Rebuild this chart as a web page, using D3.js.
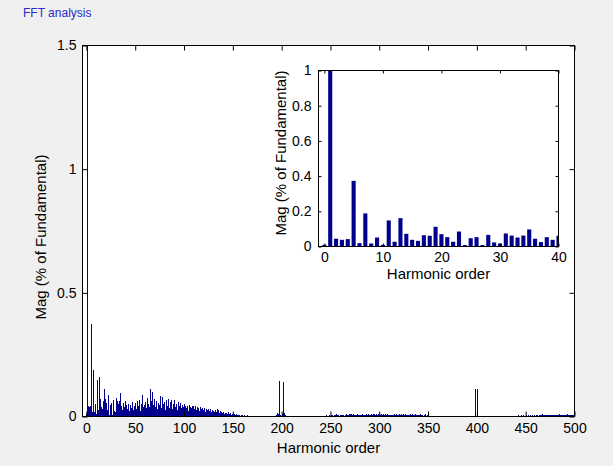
<!DOCTYPE html>
<html>
<head>
<meta charset="utf-8">
<script src="https://cdn.jsdelivr.net/npm/d3@7"></script>
<style>
  html, body { margin: 0; padding: 0; background: #f0f0f0; }
  svg { display: block; }
  text { font-family: Arial, "Liberation Sans", Helvetica, sans-serif; }
</style>
</head>
<body>
<div id="content"></div>
<script>
// harmonic magnitudes, order 0..500 (order 1 is clipped at the top)
const magLow = [
  0.010, 1.500, 0.044, 0.038, 0.042, 0.373, 0.019, 0.188, 0.017, 0.051,
  0.009, 0.148, 0.027, 0.161, 0.072, 0.038, 0.032, 0.064, 0.061, 0.112,
  0.070, 0.053, 0.027, 0.085, 0.008, 0.047, 0.053, 0.008, 0.066, 0.023,
  0.017, 0.074, 0.062, 0.051, 0.062, 0.097, 0.044, 0.025, 0.053, 0.038,
  0.061
];
const magHigh = [
  0.045, 0.030, 0.052, 0.021, 0.048, 0.035, 0.060, 0.026, 0.043, 0.055,
  0.030, 0.062, 0.041, 0.068, 0.024, 0.050, 0.088, 0.037, 0.072, 0.046,
  0.058, 0.033, 0.075, 0.052, 0.040, 0.112, 0.064, 0.101, 0.045, 0.070,
  0.038, 0.062, 0.029, 0.055, 0.047, 0.081, 0.034, 0.079, 0.051, 0.060,
  0.027, 0.066, 0.044, 0.069, 0.036, 0.058, 0.067, 0.031, 0.052, 0.065,
  0.040, 0.049, 0.025, 0.057, 0.042, 0.054, 0.033, 0.046, 0.038, 0.050,
  0.029, 0.044, 0.036, 0.041, 0.022, 0.045, 0.039, 0.034, 0.043, 0.044,
  0.031, 0.042, 0.027, 0.038, 0.035, 0.024, 0.040, 0.030, 0.036, 0.028,
  0.033, 0.019, 0.030, 0.026, 0.032, 0.021, 0.029, 0.017, 0.025, 0.022,
  0.018, 0.027, 0.020, 0.031, 0.028, 0.015, 0.022, 0.018, 0.013, 0.019,
  0.012, 0.016, 0.010, 0.014, 0.011, 0.017, 0.009, 0.013, 0.008, 0.011,
  0.007, 0.010, 0.006, 0.009, 0.008, 0.005, 0.007, 0.004, 0.006, 0.005,
  0.004, 0.005, 0.003, 0.004, 0.005, 0.003, 0.004, 0.002, 0.004, 0.003,
  0.003, 0.004, 0.002, 0.003, 0.003, 0.002, 0.004, 0.003, 0.002, 0.003,
  0.002, 0.003, 0.002, 0.002, 0.003, 0.002, 0.002, 0.003, 0.002, 0.002,
  0.002, 0.003, 0.002, 0.004, 0.006, 0.016, 0.010, 0.142, 0.008, 0.004,
  0.009, 0.140, 0.014, 0.006, 0.003, 0.002, 0.002, 0.002, 0.001, 0.002,
  0.002, 0.001, 0.002, 0.002, 0.001, 0.002, 0.001, 0.002, 0.002, 0.001,
  0.002, 0.002, 0.001, 0.002, 0.002, 0.001, 0.002, 0.002, 0.002, 0.001,
  0.004, 0.003, 0.002, 0.004, 0.003, 0.002, 0.003, 0.004, 0.002, 0.003,
  0.002, 0.003, 0.002, 0.004, 0.003, 0.005, 0.003, 0.004, 0.006, 0.004,
  0.005, 0.007, 0.004, 0.008, 0.006, 0.009, 0.005, 0.007, 0.004, 0.008,
  0.006, 0.005, 0.008, 0.004, 0.007, 0.009, 0.006, 0.008, 0.005, 0.010,
  0.009, 0.011, 0.007, 0.010, 0.006, 0.008, 0.005, 0.009, 0.007, 0.006,
  0.008, 0.006, 0.009, 0.005, 0.008, 0.007, 0.010, 0.006, 0.009, 0.007,
  0.008, 0.011, 0.006, 0.010, 0.012, 0.008, 0.011, 0.007, 0.012, 0.009,
  0.007, 0.010, 0.008, 0.012, 0.006, 0.009, 0.007, 0.010, 0.005, 0.008,
  0.009, 0.006, 0.008, 0.005, 0.007, 0.009, 0.006, 0.010, 0.008, 0.007,
  0.009, 0.006, 0.011, 0.008, 0.010, 0.007, 0.009, 0.006, 0.008, 0.005,
  0.007, 0.010, 0.006, 0.009, 0.008, 0.006, 0.010, 0.007, 0.005, 0.008,
  0.006, 0.009, 0.005, 0.007, 0.004, 0.006, 0.012, 0.004, 0.005, 0.003,
  0.004, 0.003, 0.002, 0.003, 0.002, 0.003, 0.002, 0.003, 0.002, 0.002,
  0.003, 0.002, 0.002, 0.004, 0.002, 0.002, 0.003, 0.002, 0.002, 0.003,
  0.002, 0.002, 0.004, 0.002, 0.002, 0.003, 0.002, 0.004, 0.002, 0.002,
  0.003, 0.002, 0.002, 0.004, 0.002, 0.003, 0.002, 0.002, 0.004, 0.002,
  0.002, 0.003, 0.002, 0.002, 0.003, 0.002, 0.002, 0.004, 0.110, 0.003,
  0.110, 0.004, 0.002, 0.002, 0.003, 0.002, 0.002, 0.004, 0.002, 0.002,
  0.003, 0.002, 0.002, 0.003, 0.002, 0.002, 0.004, 0.002, 0.002, 0.003,
  0.002, 0.002, 0.003, 0.002, 0.004, 0.002, 0.002, 0.003, 0.002, 0.002,
  0.003, 0.002, 0.004, 0.003, 0.002, 0.003, 0.004, 0.002, 0.003, 0.002,
  0.004, 0.003, 0.005, 0.003, 0.004, 0.006, 0.004, 0.005, 0.003, 0.004,
  0.005, 0.004, 0.006, 0.003, 0.005, 0.004, 0.006, 0.004, 0.005, 0.003,
  0.005, 0.007, 0.004, 0.006, 0.008, 0.005, 0.009, 0.006, 0.007, 0.005,
  0.006, 0.008, 0.005, 0.007, 0.006, 0.008, 0.005, 0.007, 0.009, 0.006,
  0.007, 0.005, 0.008, 0.006, 0.009, 0.007, 0.005, 0.008, 0.006, 0.007,
  0.008, 0.006, 0.009, 0.007, 0.005, 0.008, 0.006, 0.007, 0.005, 0.006
];
const harmonicMag = magLow.concat(magHigh);
const harmonicOrder = harmonicMag.map((_, i) => i);

const mainXTicks = [0, 50, 100, 150, 200, 250, 300, 350, 400, 450, 500];
const mainYTicks = [0, 0.5, 1, 1.5];
const insetXTicks = [0, 10, 20, 30, 40];
const insetYTicks = [0, 0.2, 0.4, 0.6, 0.8, 1];
const insetMaxOrder = 40;

const titleText = 'FFT analysis';
const xLabelText = 'Harmonic order';
const yLabelText = 'Mag (% of Fundamental)';

const barColor = '#00008c';
const width = 613, height = 466;

const svg = d3.select('#content').append('svg')
  .attr('width', width).attr('height', height)
  .attr('viewBox', [0, 0, width, height]);

svg.append('rect').attr('width', width).attr('height', height).attr('fill', '#f0f0f0');

svg.append('text')
  .attr('x', 23).attr('y', 17)
  .style('font-size', '12px').style('fill', '#2a2acc')
  .text(titleText);

// draws one MATLAB-like axes box with inward ticks on all four sides
function drawAxes (opts) {
  const { x, y, data, barWidth, crisp, xTicks, yTicks, tick, xPad, yPad, xLabelY, yLabelX, yLabelY, id } = opts;
  const [x0, x1] = x.range();
  const [y0, y1] = y.range();

  const g = svg.append('g');
  g.append('rect')
    .attr('x', x0).attr('y', y1).attr('width', x1 - x0).attr('height', y0 - y1)
    .attr('fill', 'white');

  g.append('clipPath').attr('id', id)
    .append('rect').attr('x', x0).attr('y', y1).attr('width', x1 - x0).attr('height', y0 - y1);

  const bw = x(barWidth) - x(0);
  g.append('g').attr('clip-path', `url(#${id})`)
    .attr('shape-rendering', crisp ? 'crispEdges' : null)
    .selectAll('rect').data(data).join('rect')
    .attr('x', d => x(d.order) - bw / 2)
    .attr('y', d => y(d.mag))
    .attr('width', bw)
    .attr('height', d => y(0) - y(d.mag))
    .attr('fill', barColor);

  const fmt = d => String(d);
  const styleAxis = sel => {
    sel.select('.domain').remove();
    sel.selectAll('line').attr('stroke', '#000');
    sel.selectAll('text').style('font-size', '14px').attr('fill', '#000').attr('font-family', null);
  };

  g.append('g').attr('transform', `translate(0,${y0})`)
    .call(d3.axisBottom(x).tickValues(xTicks).tickFormat(fmt).tickSizeInner(-tick).tickSizeOuter(0).tickPadding(xPad))
    .call(styleAxis);
  g.append('g').attr('transform', `translate(0,${y1})`)
    .call(d3.axisTop(x).tickValues(xTicks).tickFormat('').tickSizeInner(-tick).tickSizeOuter(0))
    .call(styleAxis);
  g.append('g').attr('transform', `translate(${x0},0)`)
    .call(d3.axisLeft(y).tickValues(yTicks).tickFormat(fmt).tickSizeInner(-tick).tickSizeOuter(0).tickPadding(yPad))
    .call(styleAxis);
  g.append('g').attr('transform', `translate(${x1},0)`)
    .call(d3.axisRight(y).tickValues(yTicks).tickFormat('').tickSizeInner(-tick).tickSizeOuter(0))
    .call(styleAxis);

  g.append('rect')
    .attr('x', x0).attr('y', y1).attr('width', x1 - x0).attr('height', y0 - y1)
    .attr('fill', 'none').attr('stroke', '#000').attr('stroke-width', 1);

  g.append('text')
    .attr('x', (x0 + x1) / 2).attr('y', xLabelY)
    .attr('text-anchor', 'middle')
    .style('font-size', '15px')
    .text(xLabelText);

  g.append('text')
    .attr('transform', `translate(${yLabelX},${yLabelY}) rotate(-90)`)
    .attr('text-anchor', 'middle')
    .style('font-size', '15px')
    .text(yLabelText);
}

const allBars = harmonicOrder.map((order, i) => ({ order, mag: harmonicMag[i] }));

// main spectrum
drawAxes({
  id: 'clip-main',
  x: d3.scaleLinear().domain([-4, 500]).range([82.5, 574.5]),
  y: d3.scaleLinear().domain([0, 1.5]).range([416.5, 45.5]),
  data: allBars,
  barWidth: 1.0,
  crisp: true,
  xTicks: mainXTicks, yTicks: mainYTicks,
  tick: 5, xPad: 7, yPad: 6,
  xLabelY: 453, yLabelX: 46, yLabelY: 237
});

// zoomed inset, orders 0..40
drawAxes({
  id: 'clip-inset',
  x: d3.scaleLinear().domain([-1, insetMaxOrder]).range([318.5, 558.5]),
  y: d3.scaleLinear().domain([0, 1]).range([246.5, 70.5]),
  data: allBars.filter(d => d.order <= insetMaxOrder),
  barWidth: 0.7,
  crisp: false,
  xTicks: insetXTicks, yTicks: insetYTicks,
  tick: 3, xPad: 6, yPad: 7,
  xLabelY: 279, yLabelX: 286, yLabelY: 153
});
</script>
</body>
</html>
